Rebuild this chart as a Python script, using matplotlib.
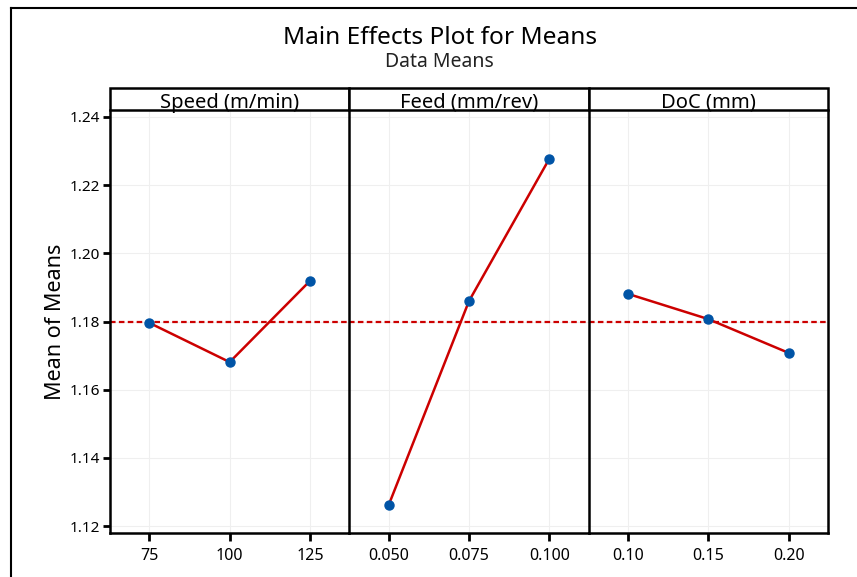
import numpy as np
import matplotlib
matplotlib.use("Agg")
import matplotlib.pyplot as plt
import matplotlib.patches as patches
from matplotlib.lines import Line2D

plt.rcParams['font.family'] = ['Noto Sans', 'DejaVu Sans']

# Data
factors = ["Speed (m/min)", "Feed (mm/rev)", "DoC (mm)"]
speed_levels = [75, 100, 125]
speed_means = [1.1796, 1.1681, 1.1919]
feed_levels = [0.050, 0.075, 0.100]
feed_means = [1.1262, 1.1860, 1.2277]
doc_levels = [0.10, 0.15, 0.20]
doc_means = [1.1881, 1.1807, 1.1708]
speed_ticklabels = ["75", "100", "125"]
feed_ticklabels = ["0.050", "0.075", "0.100"]
doc_ticklabels = ["0.10", "0.15", "0.20"]
y_ticks = [1.12, 1.14, 1.16, 1.18, 1.20, 1.22, 1.24]

levels = [speed_levels, feed_levels, doc_levels]
means = [speed_means, feed_means, doc_means]
ticklabels = [speed_ticklabels, feed_ticklabels, doc_ticklabels]
grand_mean = np.mean(speed_means + feed_means + doc_means)

line_red = '#cc0000'
dot_blue = '#0054a6'

fig = plt.figure(figsize=(8.57, 5.77), dpi=100)
left, right = 110 / 857, 828 / 857
bottom, top = 1 - 533 / 577, 1 - 110 / 577
pw = (right - left) / 3
strip_h = 22 / 577

for i in range(3):
    ax = fig.add_axes([left + i * pw, bottom, pw, top - bottom])
    x = levels[i]
    step = x[1] - x[0]
    ax.set_xlim(x[0] - step * 0.49, x[-1] + step * 0.49)
    ax.set_ylim(1.118, 1.242)
    ax.grid(True, color='#efefef', linewidth=0.8, zorder=0)
    ax.axhline(grand_mean, color=line_red, linestyle=(0, (2.5, 1.5)), linewidth=1.6, zorder=2)
    ax.plot(x, means[i], color=line_red, linewidth=1.8, zorder=3)
    ax.plot(x, means[i], 'o', color=dot_blue, markersize=6.5, zorder=4)

    ax.set_xticks(x)
    ax.set_xticklabels(ticklabels[i], fontsize=11.5)
    ax.set_yticks(y_ticks)
    if i == 0:
        ax.set_yticklabels([f"{v:.2f}" for v in y_ticks], fontsize=11)
        ax.set_ylabel("Mean of Means", fontsize=15.5, labelpad=3)
        ax.tick_params(axis='y', direction='out', length=5, width=2, pad=2)
    else:
        ax.tick_params(axis='y', left=False, labelleft=False)
    ax.tick_params(axis='x', direction='out', length=6, width=2, pad=5)

    for side in ['top', 'right']:
        ax.spines[side].set_visible(False)
    ax.spines['left'].set_linewidth(1.8)
    ax.spines['bottom'].set_linewidth(1.8)
    if i == 2:
        ax.spines['right'].set_visible(True)
        ax.spines['right'].set_linewidth(1.8)

    # strip header box
    hfrac = strip_h / (top - bottom)
    rect = patches.Rectangle((0, 1), 1, hfrac, transform=ax.transAxes,
                             facecolor='white', edgecolor='black', linewidth=1.8,
                             clip_on=False, zorder=5)
    ax.add_patch(rect)
    ax.text(0.5, 1 + hfrac * 0.32, factors[i], transform=ax.transAxes,
            ha='center', va='center', fontsize=14.5, zorder=6)

fig.text(0.513, 1 - 38 / 577, "Main Effects Plot for Means", ha='center', va='center',
         fontsize=17.6)
fig.text(0.513, 1 - 62 / 577, "Data Means", ha='center', va='center', fontsize=14,
         color='#222222')

# outer frame (top and left edges visible)
fig.add_artist(Line2D([11 / 857, 1], [1 - 8 / 577, 1 - 8 / 577], color='black',
                      linewidth=1.5, transform=fig.transFigure))
fig.add_artist(Line2D([11 / 857, 11 / 857], [0, 1 - 8 / 577], color='black',
                      linewidth=1.5, transform=fig.transFigure))

fig.savefig("out.png", dpi=100)
